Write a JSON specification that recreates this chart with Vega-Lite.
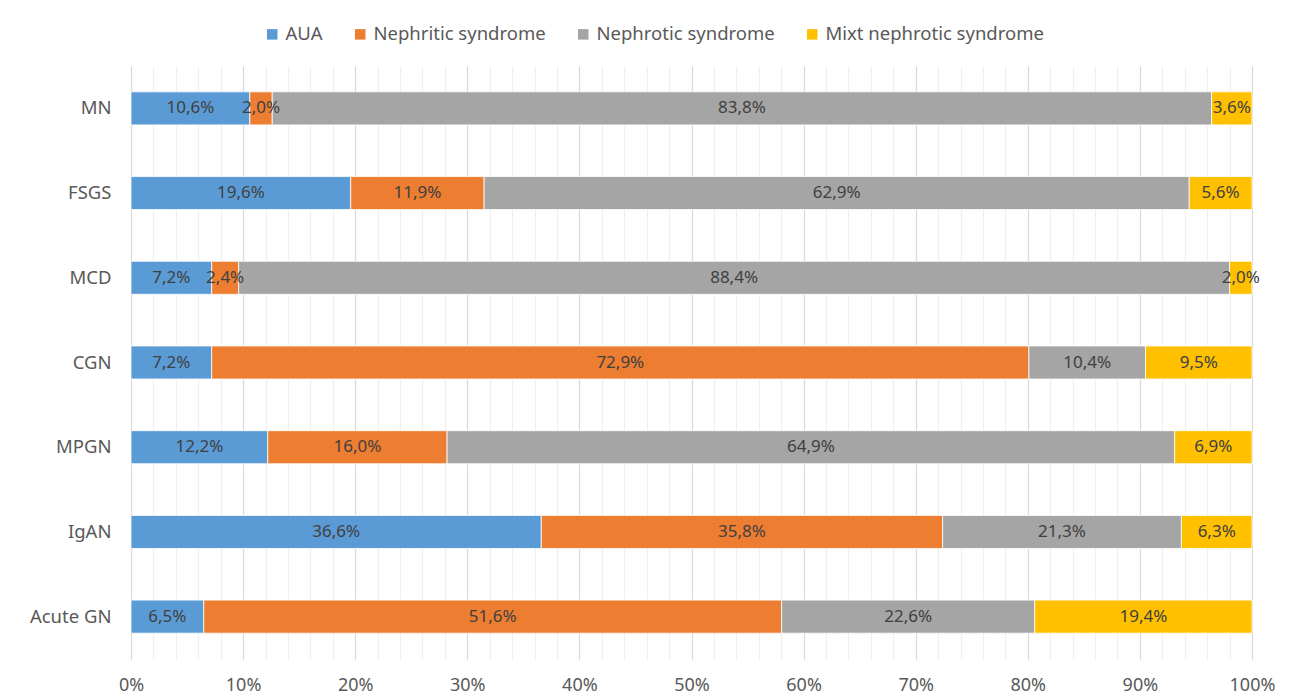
{
  "$schema": "https://vega.github.io/schema/vega-lite/v6.json",
  "width": 1121,
  "height": 593,
  "autosize": {"type": "none"},
  "padding": {"left": 131, "top": 66, "right": 43, "bottom": 36},
  "background": "white",
  "config": {
    "font": "Noto Sans",
    "view": {"stroke": null},
    "axis": {"labelOverlap": false},
    "locale": {"number": {"decimal": ",", "thousands": ".", "grouping": [3], "currency": ["", " €"]}}
  },
  "data": {
    "values": [
      {"gn": "MN", "type": "AUA", "v": 0.106},
      {"gn": "MN", "type": "Nephritic syndrome", "v": 0.020},
      {"gn": "MN", "type": "Nephrotic syndrome", "v": 0.838},
      {"gn": "MN", "type": "Mixt nephrotic syndrome", "v": 0.036},
      {"gn": "FSGS", "type": "AUA", "v": 0.196},
      {"gn": "FSGS", "type": "Nephritic syndrome", "v": 0.119},
      {"gn": "FSGS", "type": "Nephrotic syndrome", "v": 0.629},
      {"gn": "FSGS", "type": "Mixt nephrotic syndrome", "v": 0.056},
      {"gn": "MCD", "type": "AUA", "v": 0.072},
      {"gn": "MCD", "type": "Nephritic syndrome", "v": 0.024},
      {"gn": "MCD", "type": "Nephrotic syndrome", "v": 0.884},
      {"gn": "MCD", "type": "Mixt nephrotic syndrome", "v": 0.020},
      {"gn": "CGN", "type": "AUA", "v": 0.072},
      {"gn": "CGN", "type": "Nephritic syndrome", "v": 0.729},
      {"gn": "CGN", "type": "Nephrotic syndrome", "v": 0.104},
      {"gn": "CGN", "type": "Mixt nephrotic syndrome", "v": 0.095},
      {"gn": "MPGN", "type": "AUA", "v": 0.122},
      {"gn": "MPGN", "type": "Nephritic syndrome", "v": 0.160},
      {"gn": "MPGN", "type": "Nephrotic syndrome", "v": 0.649},
      {"gn": "MPGN", "type": "Mixt nephrotic syndrome", "v": 0.069},
      {"gn": "IgAN", "type": "AUA", "v": 0.366},
      {"gn": "IgAN", "type": "Nephritic syndrome", "v": 0.358},
      {"gn": "IgAN", "type": "Nephrotic syndrome", "v": 0.213},
      {"gn": "IgAN", "type": "Mixt nephrotic syndrome", "v": 0.063},
      {"gn": "Acute GN", "type": "AUA", "v": 0.065},
      {"gn": "Acute GN", "type": "Nephritic syndrome", "v": 0.516},
      {"gn": "Acute GN", "type": "Nephrotic syndrome", "v": 0.226},
      {"gn": "Acute GN", "type": "Mixt nephrotic syndrome", "v": 0.194}
    ]
  },
  "transform": [
    {"calculate": "indexof(['AUA','Nephritic syndrome','Nephrotic syndrome','Mixt nephrotic syndrome'], datum.type)", "as": "ord"},
    {"stack": "v", "groupby": ["gn"], "sort": [{"field": "ord", "order": "ascending"}], "offset": "normalize", "as": ["x0", "x1"]},
    {"calculate": "(datum.x0 + datum.x1) / 2", "as": "xm"}
  ],
  "encoding": {
    "y": {
      "field": "gn",
      "type": "nominal",
      "sort": ["MN", "FSGS", "MCD", "CGN", "MPGN", "IgAN", "Acute GN"],
      "scale": {"paddingInner": 0.61, "paddingOuter": 0.305},
      "axis": {
        "title": null,
        "domain": false,
        "ticks": false,
        "labelPadding": 20,
        "labelFontSize": 18.5,
        "labelColor": "#595959",
        "grid": false
      }
    }
  },
  "layer": [
    {
      "mark": {"type": "bar", "stroke": "white", "strokeWidth": 0.8},
      "encoding": {
        "x": {
          "field": "x0",
          "type": "quantitative",
          "scale": {"domain": [0, 1], "nice": false},
          "axis": {
            "title": null,
            "format": ".0%",
            "tickCount": 200,
            "values": [0, 0.02, 0.04, 0.06, 0.08, 0.1, 0.12, 0.14, 0.16, 0.18, 0.2, 0.22, 0.24, 0.26, 0.28, 0.3, 0.32, 0.34, 0.36, 0.38, 0.4, 0.42, 0.44, 0.46, 0.48, 0.5, 0.52, 0.54, 0.56, 0.58, 0.6, 0.62, 0.64, 0.66, 0.68, 0.7, 0.72, 0.74, 0.76, 0.78, 0.8, 0.82, 0.84, 0.86, 0.88, 0.9, 0.92, 0.94, 0.96, 0.98, 1],
            "labelExpr": "round(datum.value * 100) % 10 === 0 ? datum.label : ''",
            "domain": false,
            "ticks": false,
            "grid": true,
            "gridColor": {"condition": {"test": "round(datum.value * 100) % 10 === 0", "value": "#d9d9d9"}, "value": "#efefef"},
            "gridWidth": 1.2,
            "labelPadding": 17,
            "labelFontSize": 18,
            "labelColor": "#595959",
            "labelFlush": false,
            "labelOverlap": false
          }
        },
        "x2": {"field": "x1"},
        "color": {
          "field": "type",
          "type": "nominal",
          "scale": {
            "domain": ["AUA", "Nephritic syndrome", "Nephrotic syndrome", "Mixt nephrotic syndrome"],
            "range": ["#5B9BD5", "#ED7D31", "#A5A5A5", "#FFC000"]
          },
          "legend": {
            "title": null,
            "orient": "none",
            "direction": "horizontal",
            "legendX": 132,
            "legendY": -41,
            "symbolType": "square",
            "symbolSize": 110,
            "symbolStrokeWidth": 0,
            "labelFontSize": 18.5,
            "labelColor": "#595959",
            "labelOffset": 4,
            "columnPadding": 28,
            "labelLimit": 400
          }
        }
      }
    },
    {
      "mark": {"type": "text", "fontSize": 17, "color": "#404040", "align": "center", "baseline": "middle"},
      "encoding": {
        "x": {"field": "xm", "type": "quantitative"},
        "text": {"field": "v", "type": "quantitative", "format": ".1%"}
      }
    }
  ]
}
